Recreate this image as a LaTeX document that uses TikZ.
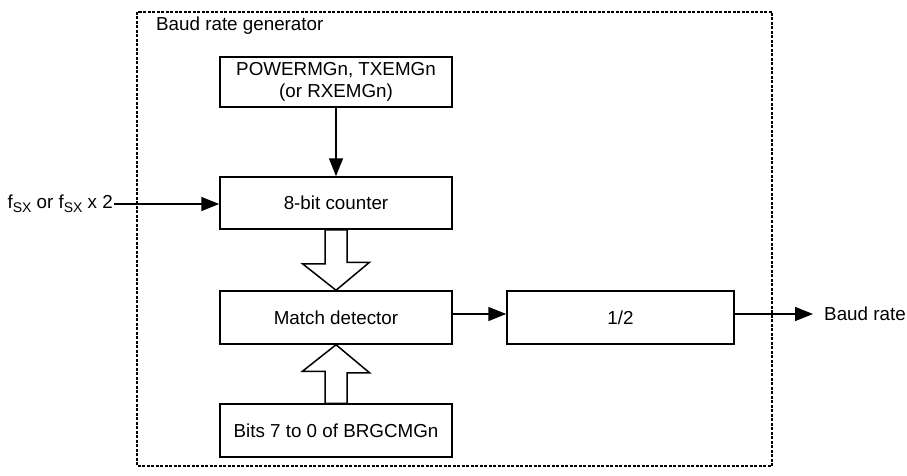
\documentclass[tikz,border=0pt]{standalone}
\usepackage{fontspec}
\setmainfont{Liberation Sans}
\usetikzlibrary{arrows.meta, calc, positioning}

\newcommand{\subsx}{\raisebox{-0.4ex}{\fontsize{14}{14}\selectfont SX}}

\begin{document}
\begin{tikzpicture}[x=1pt, y=-1pt,
    font=\fontsize{18.8}{22}\selectfont,
    blockstyle/.style={draw, line width=1.5pt, minimum width=232pt, minimum height=53pt, inner sep=0pt, align=center},
    arrowstyle/.style={-{Triangle[length=18pt, width=14pt]}, line width=1.5pt},
    busstyle/.style={draw, line width=1.5pt, fill=white},
    framestyle/.style={line width=2.6pt, dash pattern=on 3pt off 1.5pt}]
  \useasboundingbox (0,0) rectangle (907,476);
  \draw[framestyle] (137,12) rectangle (772,466);
  \node[anchor=west, inner sep=0pt] (title) at (156,26) {Baud rate generator};
  \node[blockstyle, minimum height=50pt] (pwr) at (336,82) {POWERMGn, TXEMGn\\(or RXEMGn)};
  \node[blockstyle, minimum height=52pt] (cnt) at (336,203) {8-bit counter};
  \node[blockstyle] (mat) at (336,317.5) {Match detector};
  \node[blockstyle] (bits) at (336,430.5) {Bits 7 to 0 of BRGCMGn};
  \node[blockstyle, minimum width=227pt] (half) at (620.5,317.5) {1/2};
  \node[anchor=east, inner sep=1pt] (fin) at (114,204) {f\subsx{} or f\subsx{} x 2};
  \node[anchor=west, inner sep=0pt, inner xsep=11pt] (out) at (813,314) {Baud rate};
  % signal arrows
  \draw[arrowstyle] (pwr) -- (cnt);
  \draw[arrowstyle] (fin.east) -- (fin.east -| cnt.west);
  \draw[arrowstyle] (mat.east |- out.west) -- (half.west |- out.west);
  \draw[arrowstyle] (half.east |- out.west) -- (out.west);
  % bus arrows
  \draw[busstyle] ($(cnt.south)+(-11,0)$) -- ++(0,34) -- ++(-22.5,0) -- (mat.north)
    -- ++(33.5,-28) -- ++(-22.5,0) -- ($(cnt.south)+(11,0)$) -- cycle;
  \draw[busstyle] ($(bits.north)+(-11,0)$) -- ++(0,-32) -- ++(-22.5,0) -- (mat.south)
    -- ++(33.5,28) -- ++(-22.5,0) -- ($(bits.north)+(11,0)$) -- cycle;
\end{tikzpicture}
\end{document}
